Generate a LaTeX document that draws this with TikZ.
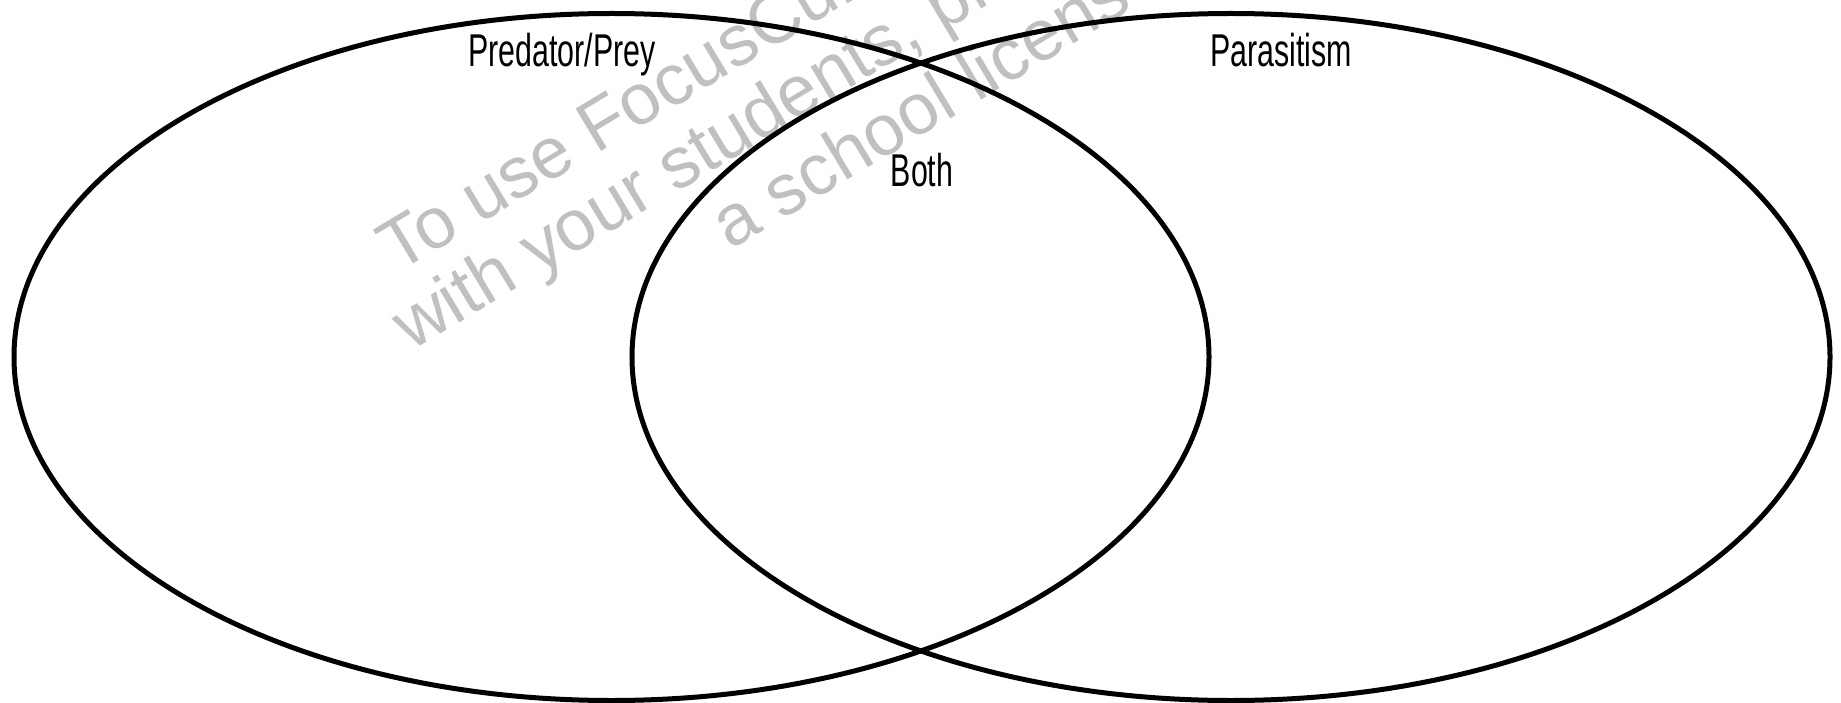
\documentclass[tikz,border=0pt]{standalone}
\usepackage{fontspec}
\usetikzlibrary{shapes.geometric}
\setmainfont{Liberation Sans}
\definecolor{wmgray}{RGB}{192,192,192}
\tikzset{
  venn/.style={draw=black, line width=5pt, ellipse, inner sep=0pt, minimum height=687pt},
  lbl/.style={anchor=base, inner sep=0pt, font=\fontsize{46}{50}\selectfont},
  wm/.style={anchor=base west, inner sep=0pt, rotate=31, text=wmgray, font=\fontsize{72}{80}\selectfont}
}
\newcommand{\narrow}[1]{\scalebox{0.66}[1]{#1}}
\begin{document}
\begin{tikzpicture}[x=1pt,y=-1pt]
\useasboundingbox (0,0) rectangle (1841,703);
\fill[white] (0,0) rectangle (1841,703);
\begin{scope}
\clip (0,0) rectangle (1841,703);
\node[wm] (w1) at (397,274) {To use FocusCurriculum};
\node[wm] (w2) at (411,352) {with your students, please};
\node[wm] (w3) at (730,251) {a school license};
\end{scope}
\node[venn, minimum width=1195pt] (left) at (611.5,357) {};
\node[venn, minimum width=1198pt] (right) at (1231,357) {};
\node[lbl] (pp) at (562,67) {\narrow{Predator/Prey}};
\node[lbl] (pa) at (1281,67) {\narrow{Parasitism}};
\node[lbl] (both) at (922,187) {\narrow{Both}};
\end{tikzpicture}
\end{document}
